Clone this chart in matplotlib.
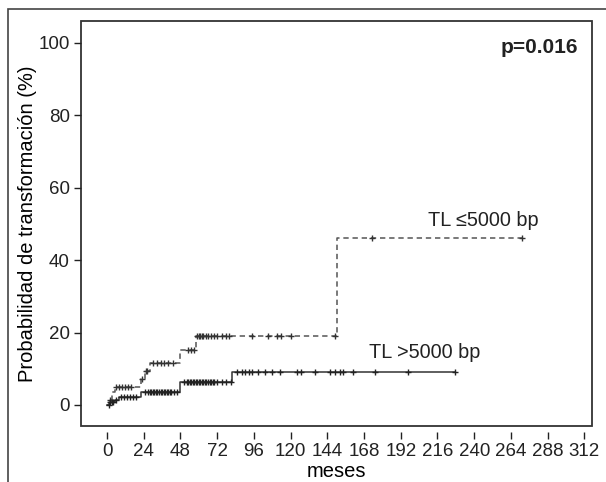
import numpy as np
import matplotlib
matplotlib.use("Agg")
import matplotlib.pyplot as plt
from matplotlib.patches import Rectangle

plt.rcParams['font.family'] = ['Liberation Sans', 'DejaVu Sans']

# TL <=5000 bp (dashed): step times (months) and cumulative probability (%)
short_t = [0, 1, 3, 5, 22, 25, 28, 48, 58, 150]
short_p = [0, 1.5, 3.5, 5.0, 7.2, 9.3, 11.7, 15.2, 19.0, 46.0]
short_end = 271
short_cens = [2, 6, 8, 10, 12, 14, 16, 23, 25.5, 26, 30, 33, 35, 37, 40, 43,
              53, 55, 57, 59, 60, 61, 62, 63, 65, 66, 68, 70, 72, 75, 78, 80,
              95, 105, 111, 114, 120, 149, 173, 271]

# TL >5000 bp (solid)
long_t = [0, 2, 5, 8, 22, 48, 82]
long_p = [0, 0.8, 1.5, 2.3, 3.7, 6.3, 9.2]
long_end = 227.6
long_cens = [1, 2, 3, 4, 6, 9, 11, 13, 15, 17, 19, 25, 27, 28, 29, 30, 31, 32,
             33, 34, 35, 36, 37, 38, 39, 40, 41, 42, 44, 46, 50, 52, 53, 54, 55,
             56, 57, 58, 59, 60, 61, 62, 63, 64, 65, 66, 67, 68, 69, 70, 72, 75,
             78, 81, 85, 88, 90, 93, 95, 99, 103, 108, 113, 124, 127, 136, 146,
             149, 152, 154, 161, 175, 197, 227.6]

xticks = list(range(0, 313, 24))
yticks = [0, 20, 40, 60, 80, 100]


def step_value(ts, ps, x):
    i = np.searchsorted(ts, x, side='right') - 1
    return ps[i]


fig = plt.figure(figsize=(6.06, 4.82), dpi=100)
# outer frame of the cropped figure
fig.patches.append(Rectangle((8 / 606, -0.1), 1.2, 1 - 9 / 482 + 0.1,
                             transform=fig.transFigure, fill=False,
                             edgecolor='#444444', linewidth=1.2))

ax = fig.add_axes([81 / 606, 1 - 426 / 482, 511 / 606, 405 / 482])

# dashed curve
xs = short_t + [short_end]
ys = short_p + [short_p[-1]]
ax.step(xs, ys, where='post', color='#555555', linewidth=1.1,
        linestyle=(0, (3.5, 2.5)))
ax.plot(short_cens, [step_value(short_t, short_p, c) for c in short_cens],
        '+', color='#333333', markersize=5, markeredgewidth=1)

# solid curve
xs = long_t + [long_end]
ys = long_p + [long_p[-1]]
ax.step(xs, ys, where='post', color='#333333', linewidth=1.1)
ax.plot(long_cens, [step_value(long_t, long_p, c) for c in long_cens],
        '+', color='#222222', markersize=5, markeredgewidth=1)

ax.set_xlim(-17, 317)
ax.set_ylim(-5.8, 106)
ax.set_xticks(xticks)
ax.set_yticks(yticks)
ax.tick_params(axis='both', direction='out', length=5, width=1,
               labelsize=13.5, colors='#222222')
ax.tick_params(axis='x', pad=3)
ax.tick_params(axis='y', pad=3)

for s in ax.spines.values():
    s.set_visible(False)
ax.spines['bottom'].set_position(('outward', 4))
ax.add_patch(Rectangle((0, 0), 1, 1, transform=ax.transAxes, fill=False,
                       edgecolor='#333333', linewidth=1.3, clip_on=False))

ax.set_xlabel('meses', fontsize=14.5, labelpad=1.5)
ax.set_ylabel('Probabilidad de transformación (%)', fontsize=14.5, labelpad=1)

ax.text(0.973, 0.958, 'p=0.016', transform=ax.transAxes, ha='right', va='top',
        fontsize=15, fontweight='bold', color='#222222')
ax.text(210, 51, 'TL ≤5000 bp', fontsize=14.3, va='center', color='#222222')
ax.text(171, 14.6, 'TL >5000 bp', fontsize=14.3, va='center', color='#222222')

fig.savefig('out.png', dpi=100)
